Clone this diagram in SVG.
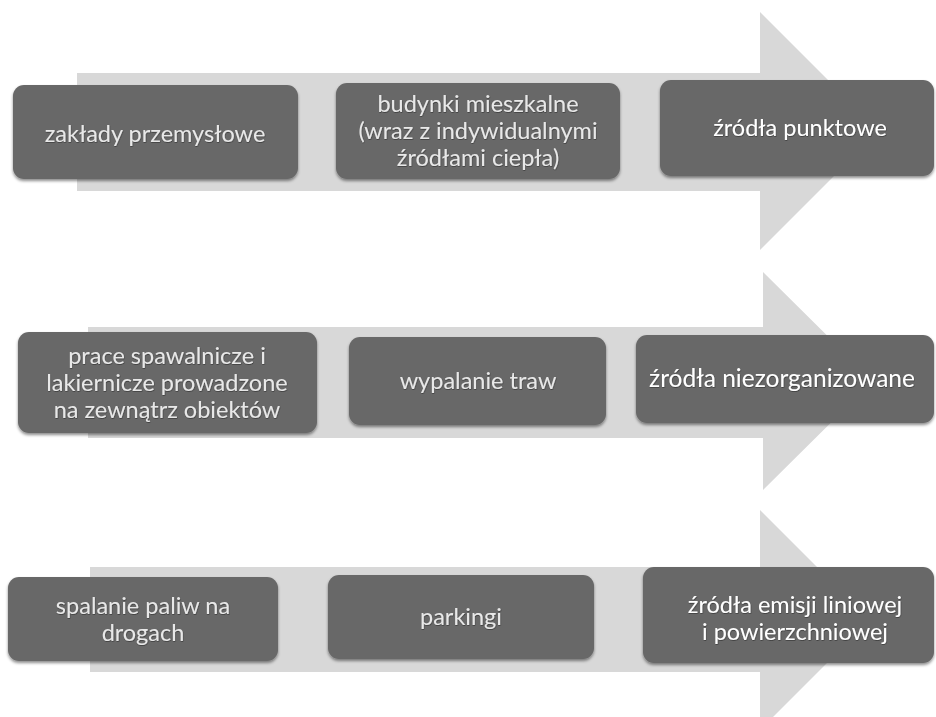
<svg xmlns="http://www.w3.org/2000/svg" width="936" height="717" viewBox="0 0 936 717">
  <defs>
    <filter id="shadow" x="-5%" y="-10%" width="110%" height="130%">
      <feDropShadow dx="0" dy="2" stdDeviation="1.5" flood-color="#000" flood-opacity="0.45"/>
    </filter>
    <filter id="txtshadow" x="-5%" y="-20%" width="110%" height="140%">
      <feDropShadow dx="0.4" dy="0.8" stdDeviation="0.6" flood-color="#222" flood-opacity="0.6"/>
    </filter>
  </defs>
  <style>
    .arrow { fill: #d8d8d8; }
    .box { fill: #686868; filter: url(#shadow); }
    .t { font-family: "Lato", "Open Sans", "Liberation Sans", sans-serif; font-size: 23.5px; fill: #e8e8e8; text-anchor: middle; filter: url(#txtshadow); }
    .tb { fill: #ffffff; }
  </style>
  <rect width="936" height="717" fill="#ffffff"/>

  <g id="connectors">
    <path class="arrow" d="M77,73 H760 V12 L879,131 L760,250 V191 H77 Z"/>
    <path class="arrow" d="M88,327 H763 V272 L873,381 L763,490 V438 H88 Z"/>
    <path class="arrow" d="M90,567 H760 V510 L870,620 L760,730 V672 H90 Z"/>
  </g>

  <g id="node-zaklady">
    <rect class="box" x="13" y="85" width="285" height="94" rx="11"/>
    <text class="t" x="155" y="142">zakłady przemysłowe</text>
  </g>
  <g id="node-budynki">
    <rect class="box" x="336" y="83" width="284" height="96" rx="11"/>
    <text class="t" x="478" y="112">budynki mieszkalne</text>
    <text class="t" x="478" y="139">(wraz z indywidualnymi</text>
    <text class="t" x="478" y="166">źródłami ciepła)</text>
  </g>
  <g id="node-punktowe">
    <rect class="box" x="660" y="80" width="274" height="96" rx="11"/>
    <text class="t tb" x="800" y="136">źródła punktowe</text>
  </g>

  <g id="node-prace">
    <rect class="box" x="18" y="332" width="299" height="101" rx="11"/>
    <text class="t" x="167" y="364">prace spawalnicze i</text>
    <text class="t" x="167" y="391">lakiernicze prowadzone</text>
    <text class="t" x="167" y="418">na zewnątrz obiektów</text>
  </g>
  <g id="node-wypalanie">
    <rect class="box" x="349" y="337" width="257" height="88" rx="11"/>
    <text class="t" x="478" y="389">wypalanie traw</text>
  </g>
  <g id="node-niezorganizowane">
    <rect class="box" x="636" y="335" width="298" height="88" rx="11"/>
    <text class="t tb" x="782" y="387" style="font-size:24.5px">źródła niezorganizowane</text>
  </g>

  <g id="node-spalanie">
    <rect class="box" x="8" y="577" width="270" height="84" rx="11"/>
    <text class="t" x="143" y="614">spalanie paliw na</text>
    <text class="t" x="143" y="641">drogach</text>
  </g>
  <g id="node-parkingi">
    <rect class="box" x="328" y="575" width="266" height="84" rx="11"/>
    <text class="t" x="461" y="625">parkingi</text>
  </g>
  <g id="node-liniowe">
    <rect class="box" x="643" y="567" width="291" height="96" rx="11"/>
    <text class="t tb" x="795" y="613">źródła emisji liniowej</text>
    <text class="t tb" x="795" y="640">i powierzchniowej</text>
  </g>
</svg>
